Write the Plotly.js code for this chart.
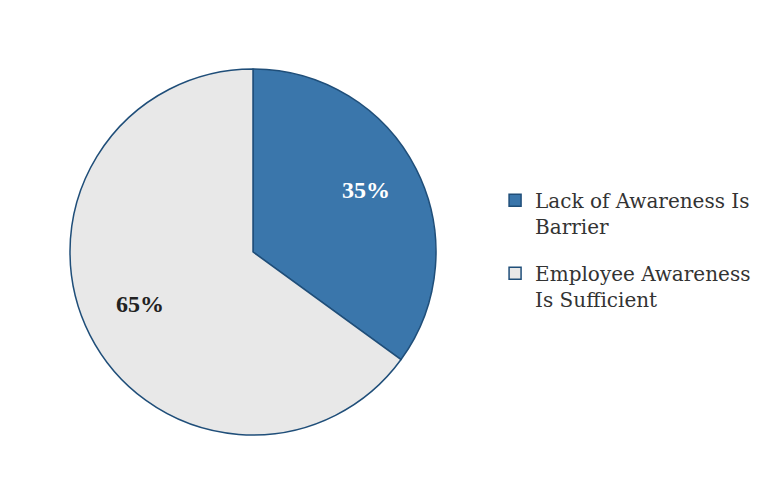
<!DOCTYPE html>
<html><head><meta charset="utf-8">
<script src="https://cdn.plot.ly/plotly-3.0.1.min.js"></script>
<style>html,body{margin:0;padding:0;background:#fff;}#chart{width:764px;height:495px;}</style>
</head><body><div id="chart"></div>
<script>
const labels = ["Lack of Awareness Is<br>Barrier", "Employee Awareness<br>Is Sufficient"];
const values = [35, 65];
const colors = ["#3a76ab", "#e8e8e8"];
const textColors = ["#ffffff", "#222222"];

const W = 764, H = 495;
const cx = 253, cy = 252, R = 183;
const serif = "Liberation Serif, DejaVu Serif, serif";
const legendSerif = "DejaVu Serif, Liberation Serif, serif";

const pie = {
  type: "pie",
  labels: labels,
  values: values,
  sort: false,
  direction: "clockwise",
  rotation: 0,
  marker: {colors: colors, line: {color: "#1f4e79", width: 1.5}},
  textinfo: "none",
  showlegend: false,
  domain: {x: [(cx - R) / W, (cx + R) / W], y: [(H - cy - R) / H, (H - cy + R) / H]},
  hoverinfo: "label+percent"
};

// legend entries (one group per slice so the gap between entries matches)
const legendTraces = labels.map((lab, i) => ({
  type: "scatter", mode: "markers",
  x: [null], y: [null],
  name: lab,
  legendgroup: "g" + i,
  marker: {symbol: "square", size: 12, color: colors[i], line: {color: "#1f4e79", width: 1.5}},
  hoverinfo: "skip"
}));

// percentage labels placed at ~0.69 R along each slice's mid angle
const total = values.reduce((a, b) => a + b, 0);
let acc = 0;
const annotations = values.map((v, i) => {
  const mid = (acc + v / 2) / total * 2 * Math.PI;
  acc += v;
  const px = cx + 0.69 * R * Math.sin(mid);
  const py = cy - 0.69 * R * Math.cos(mid);
  return {
    xref: "paper", yref: "paper", x: px / W, y: (H - py) / H,
    xanchor: "center", yanchor: "middle", yshift: 5,
    text: Math.round(v / total * 100) + "%",
    showarrow: false,
    font: {family: serif, size: 24, color: textColors[i], weight: "bold"}
  };
});

const layout = {
  width: W, height: H,
  margin: {l: 0, r: 0, t: 0, b: 0},
  paper_bgcolor: "#ffffff",
  plot_bgcolor: "rgba(0,0,0,0)",
  xaxis: {visible: false, range: [0, 1]},
  yaxis: {visible: false, range: [0, 1]},
  showlegend: true,
  annotations: annotations,
  legend: {
    x: 0.648, y: 0.635, xanchor: "left", yanchor: "top",
    font: {family: legendSerif, size: 20, color: "#333333"},
    valign: "top",
    tracegroupgap: 18,
    traceorder: "grouped"
  }
};
Plotly.newPlot("chart", [pie].concat(legendTraces), layout, {displayModeBar: false, staticPlot: true});
</script></body></html>
